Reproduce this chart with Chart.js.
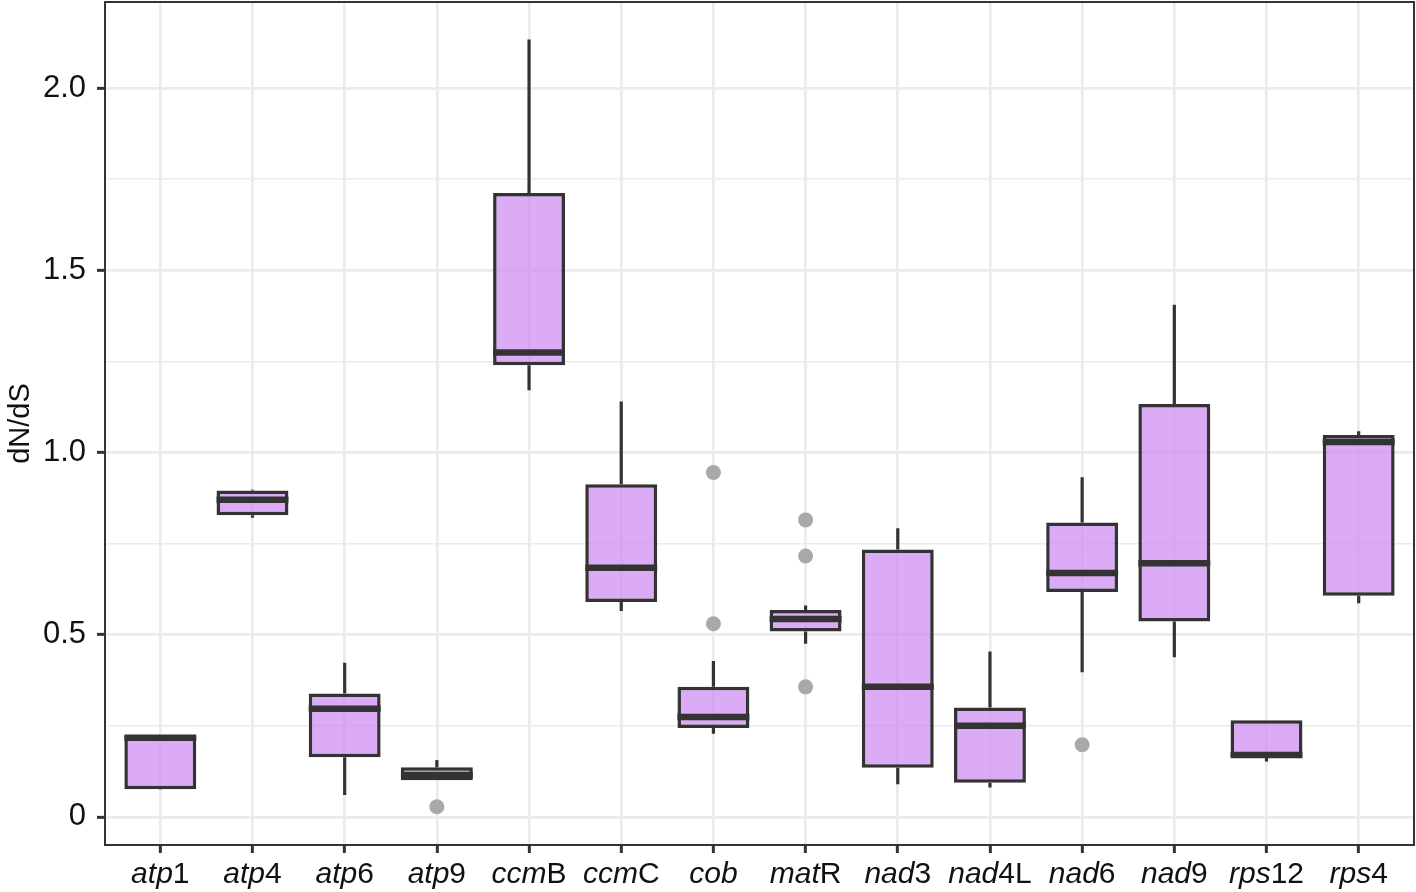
<!DOCTYPE html>
<html>
<head>
<meta charset="utf-8">
<script src="https://cdn.jsdelivr.net/npm/chart.js@4.4.1/dist/chart.umd.min.js"></script>
<style>
  html, body { margin: 0; padding: 0; background: #ffffff; }
  #wrap { width: 1416px; height: 892px; }
</style>
</head>
<body>
<div id="wrap"><canvas id="c" width="1416" height="892"></canvas></div>
<script>
// ---- data ----
const genes = ['atp1','atp4','atp6','atp9','ccmB','ccmC','cob','matR','nad3','nad4L','nad6','nad9','rps12','rps4'];
const labelItalic = ['atp','atp','atp','atp','ccm','ccm','cob','mat','nad','nad','nad','nad','rps','rps'];
const labelPlain  = ['1','4','6','9','B','C','','R','3','4L','6','9','12','4'];
const whiskerLow  = [0.075, 0.821, 0.060, 0.101, 1.171, 0.565, 0.228, 0.475, 0.090, 0.081, 0.397, 0.438, 0.152, 0.586];
const q1          = [0.076, 0.828, 0.164, 0.101, 1.239, 0.590, 0.244, 0.509, 0.135, 0.094, 0.617, 0.536, 0.165, 0.607];
const medians     = [0.217, 0.870, 0.297, 0.115, 1.274, 0.684, 0.274, 0.543, 0.357, 0.250, 0.669, 0.696, 0.170, 1.029];
const q3          = [0.222, 0.896, 0.339, 0.136, 1.712, 0.913, 0.357, 0.568, 0.734, 0.300, 0.808, 1.133, 0.265, 1.048];
const whiskerHigh = [0.224, 0.898, 0.423, 0.156, 2.133, 1.140, 0.428, 0.580, 0.792, 0.454, 0.932, 1.405, 0.265, 1.058];
const outlierGene  = ['atp9','cob','cob','matR','matR','matR','nad6'];
const outlierValue = [0.028, 0.945, 0.530, 0.815, 0.716, 0.357, 0.198];
const yGridValues = [0, 0.25, 0.5, 0.75, 1.0, 1.25, 1.5, 1.75, 2.0];
const yTickLabels = ['0', '', '0.5', '', '1.0', '', '1.5', '', '2.0'];
const yMin = -0.077, yMax = 2.236;

const FONT = '"Liberation Sans", Arial, Helvetica, sans-serif';
const INK = '#333333';
const pos = g => genes.indexOf(g) + 1;   // discrete position of a gene

const boxPlugin = {
  id: 'boxparts',
  beforeDatasetsDraw(chart) {
    const ctx = chart.ctx, xs = chart.scales.x, ys = chart.scales.y;
    ctx.save();
    ctx.strokeStyle = INK; ctx.lineWidth = 3.2; ctx.lineCap = 'butt';
    genes.forEach((g, i) => {
      const x = xs.getPixelForValue(pos(g));
      ctx.beginPath();
      ctx.moveTo(x, ys.getPixelForValue(q3[i])); ctx.lineTo(x, ys.getPixelForValue(whiskerHigh[i]));
      ctx.moveTo(x, ys.getPixelForValue(q1[i])); ctx.lineTo(x, ys.getPixelForValue(whiskerLow[i]));
      ctx.stroke();
    });
    ctx.restore();
  },
  afterDatasetsDraw(chart) {
    const ctx = chart.ctx, ys = chart.scales.y;
    const meta = chart.getDatasetMeta(0);
    ctx.save();
    ctx.strokeStyle = INK; ctx.lineWidth = 6.5; ctx.lineCap = 'butt';
    meta.data.forEach((bar, i) => {
      const y = ys.getPixelForValue(medians[i]);
      ctx.beginPath();
      ctx.moveTo(bar.x - bar.width / 2, y); ctx.lineTo(bar.x + bar.width / 2, y);
      ctx.stroke();
    });
    ctx.restore();
  },
  afterDraw(chart) {
    const ctx = chart.ctx, a = chart.chartArea, xs = chart.scales.x;
    ctx.save();
    ctx.strokeStyle = INK; ctx.lineWidth = 2;
    ctx.strokeRect(a.left, a.top, a.right - a.left, a.bottom - a.top);
    // x tick labels: italic gene prefix + upright suffix
    const size = 30;
    const fi = 'italic ' + size + 'px ' + FONT, fr = size + 'px ' + FONT;
    ctx.fillStyle = '#111111'; ctx.textBaseline = 'alphabetic'; ctx.textAlign = 'left';
    genes.forEach((g, i) => {
      ctx.font = fi; const w1 = ctx.measureText(labelItalic[i]).width;
      ctx.font = fr; const w2 = ctx.measureText(labelPlain[i]).width;
      const x0 = xs.getPixelForValue(pos(g)) - (w1 + w2) / 2;
      const y = 883;
      ctx.font = fi; ctx.fillText(labelItalic[i], x0, y);
      ctx.font = fr; ctx.fillText(labelPlain[i], x0 + w1, y);
    });
    ctx.restore();
  }
};

new Chart(document.getElementById('c'), {
  type: 'bar',
  data: {
    datasets: [{
      label: 'box',
      data: genes.map((g, i) => ({ x: pos(g), y: [q1[i], q3[i]] })),
      backgroundColor: 'rgba(205,135,242,0.7)',
      borderColor: INK,
      borderWidth: 3.5,
      borderSkipped: false,
      barPercentage: 0.78,
      categoryPercentage: 1,
      order: 2
    }, {
      type: 'line',
      label: 'outliers',
      data: outlierGene.map((g, i) => ({ x: pos(g), y: outlierValue[i] })),
      showLine: false,
      pointRadius: 7.5,
      pointBackgroundColor: '#A9A9A9',
      pointBorderWidth: 0,
      order: 1
    }]
  },
  options: {
    responsive: false,
    animation: false,
    devicePixelRatio: 1,
    layout: { autoPadding: false, padding: { top: 2, right: 2, left: 0, bottom: 0 } },
    plugins: { legend: { display: false }, tooltip: { enabled: false } },
    scales: {
      x: {
        type: 'linear',
        min: 0.4, max: genes.length + 0.6,
        offset: false,
        afterBuildTicks(s) { s.ticks = genes.map(g => ({ value: pos(g) })); },
        grid: { offset: false, color: '#EBEBEB', lineWidth: 2.7, tickColor: INK, tickLength: 8, tickWidth: 3 },
        border: { display: false },
        ticks: { display: false },
        afterFit(s) { s.height = 47; s.paddingLeft = 0; s.paddingRight = 0; }
      },
      y: {
        min: yMin, max: yMax,
        afterBuildTicks(s) { s.ticks = yGridValues.map(v => ({ value: v })); },
        grid: {
          color: '#EBEBEB',
          lineWidth: c => (yTickLabels[c.index] ? 2.7 : 1.6),
          tickColor: c => (yTickLabels[c.index] ? INK : 'rgba(0,0,0,0)'),
          tickLength: 8,
          tickWidth: 3
        },
        border: { display: false },
        ticks: {
          padding: 11,
          color: '#111111',
          font: { family: FONT, size: 31 },
          callback: (v, i) => yTickLabels[i]
        },
        title: {
          display: true, text: 'dN/dS', color: '#111111',
          font: { family: FONT, size: 29 }, padding: { top: 4, bottom: 4 }
        },
        afterFit(s) { s.width = 105; s.paddingTop = 0; s.paddingBottom = 0; }
      }
    }
  },
  plugins: [boxPlugin]
});
</script>
</body>
</html>
